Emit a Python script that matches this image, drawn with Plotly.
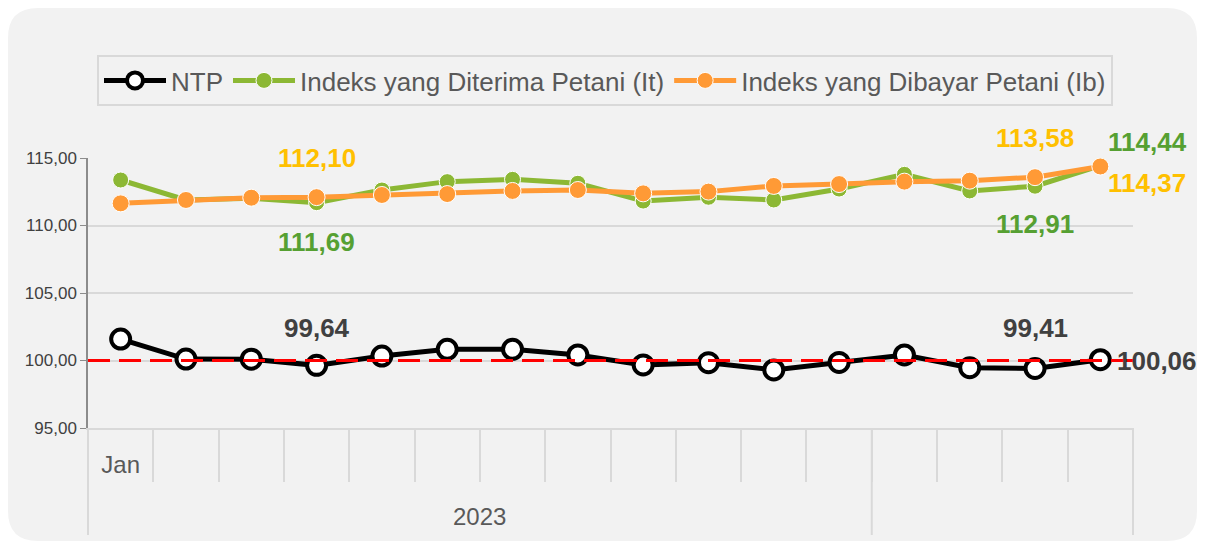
import plotly.graph_objects as go

# ---- data ----
categories = ["Jan 2023", "Feb 2023", "Mar 2023", "Apr 2023", "Mei 2023", "Jun 2023",
              "Jul 2023", "Agu 2023", "Sep 2023", "Okt 2023", "Nov 2023", "Des 2023",
              "Jan 2024", "Feb 2024", "Mar 2024", "Apr 2024"]
tick_text = ["Jan"] + [""] * 15
year_label = "2023"
months_in_first_year = 12
ntp = [101.59, 100.11, 100.10, 99.64, 100.33, 100.83, 100.83, 100.41,
       99.67, 99.84, 99.30, 99.86, 100.41, 99.47, 99.41, 100.06]
it_vals = [113.37, 111.89, 112.01, 111.69, 112.63, 113.25, 113.42, 113.13,
           111.81, 112.09, 111.89, 112.70, 113.79, 112.56, 112.91, 114.44]
ib_vals = [111.64, 111.89, 112.06, 112.10, 112.26, 112.33, 112.56, 112.63,
           112.38, 112.51, 112.93, 113.07, 113.25, 113.32, 113.58, 114.37]
series_names = ["NTP", "Indeks yang Diterima Petani (It)", "Indeks yang Dibayar Petani (Ib)"]
y_ticks = [95, 100, 105, 110, 115]
ref_level = 100

FONT = "Liberation Sans, Arial, sans-serif"

fig = go.Figure()
# reference line (drawn first -> beneath the series), on a hidden 0..1 x-axis
fig.add_trace(go.Scatter(
    x=[0, 1], y=[ref_level, ref_level], xaxis="x2", mode="lines", showlegend=False,
    hoverinfo="skip", line=dict(color="#FF0000", width=3, dash="22px,9px"),
))
fig.add_trace(go.Scatter(
    x=categories, y=ntp, name=series_names[0], mode="lines+markers",
    line=dict(color="#000000", width=5),
    marker=dict(size=19, color="#FFFFFF", line=dict(color="#000000", width=4)),
))
fig.add_trace(go.Scatter(
    x=categories, y=it_vals, name=series_names[1], mode="lines+markers",
    line=dict(color="#8CB834", width=5),
    marker=dict(size=16, color="#8CB834", line=dict(color="#FFFFFF", width=1)),
))
fig.add_trace(go.Scatter(
    x=categories, y=ib_vals, name=series_names[2], mode="lines+markers",
    line=dict(color="#FF9A36", width=5),
    marker=dict(size=17, color="#FF9A36", line=dict(color="#FFFFFF", width=1)),
))

def fmt(v):
    return f"{v:.2f}".replace(".", ",")

GREEN_T = "#56A032"
GOLD_T = "#FFC000"
DARK_T = "#404040"
def lab_font(c):
    return dict(family=FONT, size=26, color=c, weight="bold")

# labels: (series values, index, color, xanchor, xshift, yshift)
labels = [
    (ib_vals, 3, GOLD_T, "center", 0, 39),
    (it_vals, 3, GREEN_T, "center", 0, -39),
    (ntp, 3, DARK_T, "center", 0, 37),
    (ib_vals, 14, GOLD_T, "center", 0, 39),
    (it_vals, 14, GREEN_T, "center", 0, -38),
    (ntp, 14, DARK_T, "center", 0, 40),
    (it_vals, 15, GREEN_T, "left", 6, 24),
    (ib_vals, 15, GOLD_T, "left", 6, -16),
    (ntp, 15, DARK_T, "left", 15, -1),
]
for vals, i, c, xa, xs, ys in labels:
    fig.add_annotation(x=categories[i], y=vals[i], text=fmt(vals[i]), showarrow=False,
                       xanchor=xa, yanchor="middle", xshift=xs, yshift=ys,
                       font=lab_font(c))

# layout geometry (figure pixels; the page body adds an 8px offset)
W, H = 1189, 533
L, R, T, B = 80, 64, 150, 113
pw, ph = W - L - R, H - T - B
def px(xp):
    return (xp - L) / pw
def py(yp):
    return (H - B - yp) / ph

# background rounded panel (paper coords)
x0, x1, y0, y1, r = 0, W, 0, H, 30
path = (f"M{px(x0+r)},{py(y0)} L{px(x1-r)},{py(y0)} Q{px(x1)},{py(y0)} {px(x1)},{py(y0+r)} "
        f"L{px(x1)},{py(y1-r)} Q{px(x1)},{py(y1)} {px(x1-r)},{py(y1)} "
        f"L{px(x0+r)},{py(y1)} Q{px(x0)},{py(y1)} {px(x0)},{py(y1-r)} "
        f"L{px(x0)},{py(y0+r)} Q{px(x0)},{py(y0)} {px(x0+r)},{py(y0)} Z")
fig.add_shape(type="path", path=path, xref="paper", yref="paper",
              fillcolor="#F2F2F2", line=dict(width=0), layer="below")

# year group dividers (start, between years, end)
split = months_in_first_year / len(categories)
for frac in (0, split, 1):
    fig.add_shape(type="line", xref="paper", yref="paper", x0=frac, x1=frac,
                  y0=0, y1=py(527), line=dict(color="#D9D9D9", width=2), layer="below")
fig.add_annotation(x=split / 2, xref="paper", y=py(509), yref="paper",
                   text=year_label, showarrow=False, xanchor="center", yanchor="middle",
                   font=dict(family=FONT, size=24, color="#595959"))

fig.update_layout(
    width=W, height=H,
    margin=dict(l=L, r=R, t=T, b=B, autoexpand=False),
    paper_bgcolor="#FFFFFF",
    plot_bgcolor="rgba(0,0,0,0)",
    separators=",.",
    font=dict(family=FONT, color="#595959"),
    showlegend=True,
    legend=dict(
        orientation="h", x=px(89), y=py(47), xanchor="left", yanchor="top",
        bgcolor="rgba(0,0,0,0)", bordercolor="#D9D9D9", borderwidth=2,
        font=dict(family=FONT, size=26, color="#595959"),
        tracegroupgap=0, itemwidth=62,
    ),
    xaxis=dict(
        type="category", tickmode="array", tickvals=categories, ticktext=tick_text,
        tickson="boundaries", automargin=False,
        showgrid=False, showline=True, linecolor="#D9D9D9", linewidth=2,
        ticks="outside", ticklen=52, tickcolor="#D9D9D9", tickwidth=2,
        ticklabelstandoff=14,
        tickfont=dict(family=FONT, size=24, color="#595959"),
        zeroline=False, range=[-0.5, len(categories) - 0.5],
    ),
    xaxis2=dict(overlaying="x", range=[0, 1], visible=False, fixedrange=True),
    yaxis=dict(
        range=[95, 115], tickvals=y_ticks, tickformat=".2f", automargin=False,
        showgrid=True, gridcolor="#D9D9D9", gridwidth=2,
        showline=True, linecolor="#8C8C8C", linewidth=1.5,
        ticks="outside", ticklen=6, tickcolor="#8C8C8C",
        tickfont=dict(family=FONT, size=17, color="#404040"),
        zeroline=False,
    ),
)

fig.write_html("out.html")
